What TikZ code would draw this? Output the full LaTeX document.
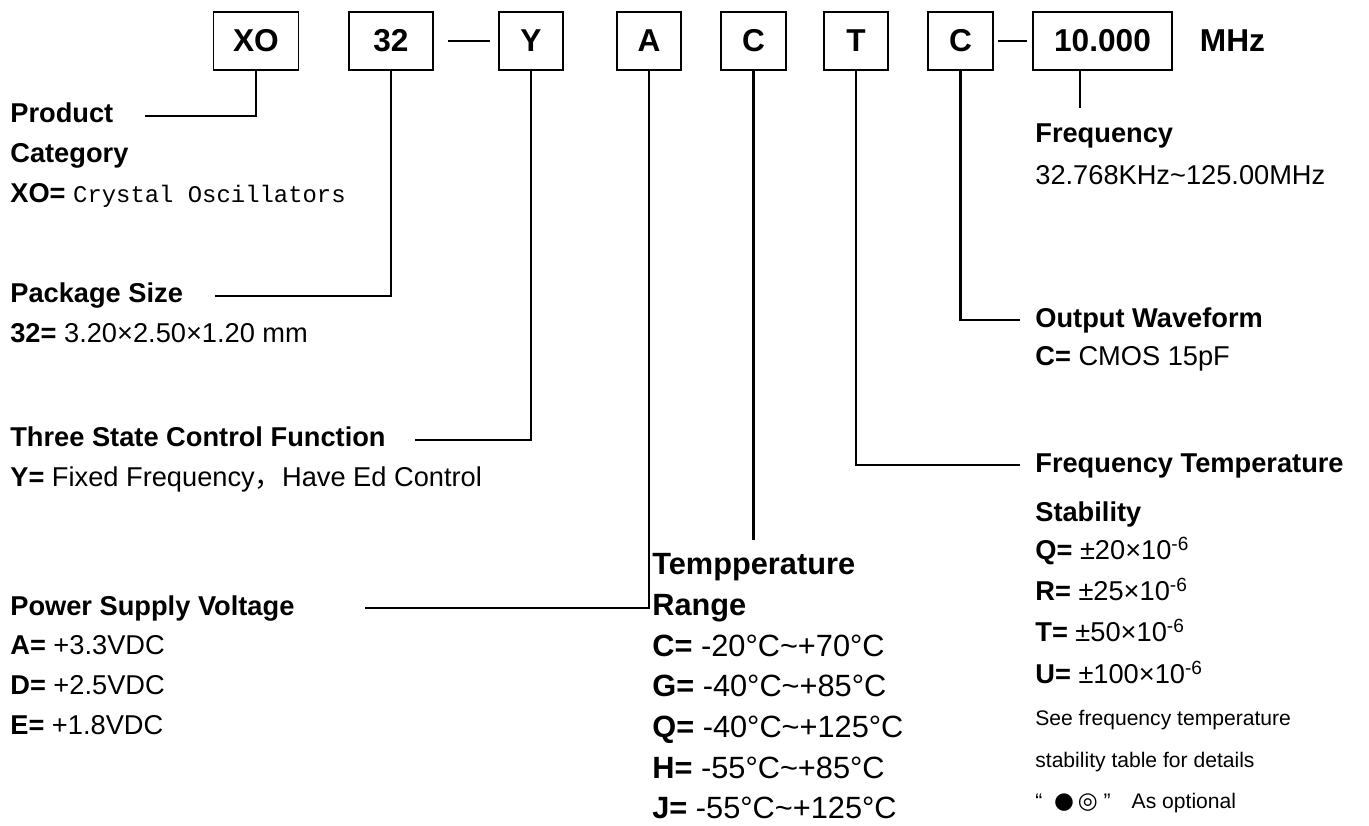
\documentclass[tikz,border=0pt]{standalone}
\usepackage{fontspec}
\setmainfont{Liberation Sans}
\setsansfont{Liberation Sans}
\newfontfamily\monofam{Liberation Mono}
\newfontfamily\symfam{DejaVu Sans}
\newfontfamily\cjk{Noto Sans CJK SC}
\usetikzlibrary{positioning,calc}

\begin{document}
\begin{tikzpicture}[
  font=\sffamily,
  codebox/.style={draw, line width=1.1pt, font=\sffamily\fontsize{18}{21}\selectfont\bfseries, minimum height=1.16cm, inner sep=0pt},
  head/.style={anchor=base west, inner sep=0pt, font=\sffamily\fontsize{15.5}{18}\selectfont\bfseries},
  item/.style={anchor=base west, inner sep=0pt, font=\sffamily\fontsize{15.5}{18}\selectfont},
  bighead/.style={head, font=\sffamily\fontsize{17.5}{20}\selectfont\bfseries},
  bigitem/.style={item, font=\sffamily\fontsize{17.5}{20}\selectfont},
  note/.style={anchor=base west, inner sep=0pt, font=\sffamily\fontsize{12}{14}\selectfont},
  lead/.style={line width=1.2pt},
]
\useasboundingbox (0,0) rectangle (27.38,16.52);

% ordering code
\node[codebox,minimum width=1.70cm] (xo) at (5.12,15.70) {XO};
\node[codebox,minimum width=1.68cm] (sz) at (7.82,15.70) {32};
\node[codebox,minimum width=1.28cm] (ts) at (10.62,15.70) {Y};
\node[codebox,minimum width=1.28cm] (pv) at (12.98,15.70) {A};
\node[codebox,minimum width=1.30cm] (tr) at (15.07,15.70) {C};
\node[codebox,minimum width=1.28cm] (fs) at (17.12,15.70) {T};
\node[codebox,minimum width=1.30cm] (ow) at (19.21,15.70) {C};
\node[codebox,minimum width=2.78cm] (fq) at (22.05,15.70) {10.000};
\node[codebox,draw=none,anchor=west] (unit) at (23.98,15.70) {MHz};
\draw[lead,shorten <=0.28cm,shorten >=0.16cm] (sz) -- (ts);
\draw[lead,shorten <=0.09cm,shorten >=0.11cm] (ow) -- (fq);

% left column
\node[head] (prod) at (0.20,14.06) {Product};
\node[head] (cat) at (0.20,13.26) {Category};
\node[item] (xoval) at (0.20,12.46) {\textbf{XO=} {\monofam\fontsize{13.6}{16}\selectfont Crystal Oscillators}};
\node[head] (pkg) at (0.20,10.46) {Package Size};
\node[item] (pkgval) at (0.20,9.66) {\textbf{32=} 3.20×2.50×1.20 mm};
\node[head] (tsc) at (0.20,7.58) {Three State Control Function};
\node[item] (tscval) at (0.20,6.78) {\textbf{Y=} Fixed Frequency{\cjk ，}Have Ed Control};
\node[head] (psv) at (0.20,4.20) {Power Supply Voltage};
\foreach \y/\k/\t [count=\i] in {3.42/A/+3.3VDC,2.62/D/+2.5VDC,1.82/E/+1.8VDC}
  \node[item] (psv\i) at (0.20,\y) {\textbf{\k=} \t};

% temperature range
\node[bighead] (trg) at (13.04,5.02) {Tempperature};
\node[bighead] (trg2) at (13.04,4.20) {Range};
\foreach \y/\k/\t in {3.38/C/{-20°C\textasciitilde+70°C},2.58/G/{-40°C\textasciitilde+85°C},1.76/Q/{-40°C\textasciitilde+125°C},0.94/H/{-55°C\textasciitilde+85°C},0.14/J/{-55°C\textasciitilde+125°C}}
  \node[bigitem] (trg\k) at (13.04,\y) {\textbf{\k=} \t};

% right column
\node[head] (frq) at (20.70,13.66) {Frequency};
\node[item] (frqval) at (20.70,12.82) {32.768KHz\textasciitilde125.00MHz};
\node[head] (owf) at (20.70,9.96) {Output Waveform};
\node[item] (owfval) at (20.70,9.20) {\textbf{C=} CMOS 15pF};
\node[head] (fst) at (20.70,7.06) {Frequency Temperature};
\node[head] (fst2) at (20.70,6.08) {Stability};
\foreach \y/\k/\t in {5.32/Q/20,4.50/R/25,3.68/T/50,2.84/U/100}
  \node[item] (fst\k) at (20.70,\y) {\textbf{\k=} ±\t×10\textsuperscript{-6}};
\node[note] (see1) at (20.70,2.01) {See frequency temperature};
\node[note] (see2) at (20.70,1.17) {stability table for details};
\node[note] (opt) at (20.70,0.35) {“\; {\symfam\fontsize{13}{14}\selectfont ●\,◎} ”\quad As optional};

% leads
\coordinate (prodend) at (2.90,14.20);
\coordinate (pkgend) at (4.30,10.60);
\coordinate (tscend) at (8.30,7.72);
\coordinate (psvend) at (7.30,4.36);
\coordinate (trgend) at (15.07,5.72);
\coordinate (owfend) at (20.40,10.12);
\coordinate (fstend) at (20.40,7.22);
\coordinate (frqend) at (21.60,14.36);
\draw[lead] (xo.south) |- (prodend);
\draw[lead] (sz.south) |- (pkgend);
\draw[lead] (ts.south) |- (tscend);
\draw[lead] (pv.south) |- (psvend);
\draw[lead] (tr.south) -- (trgend);
\draw[lead] (fs.south) |- (fstend);
\draw[lead] (ow.south) |- (owfend);
\draw[lead] (frqend |- fq.south) -- (frqend);

\end{tikzpicture}
\end{document}
